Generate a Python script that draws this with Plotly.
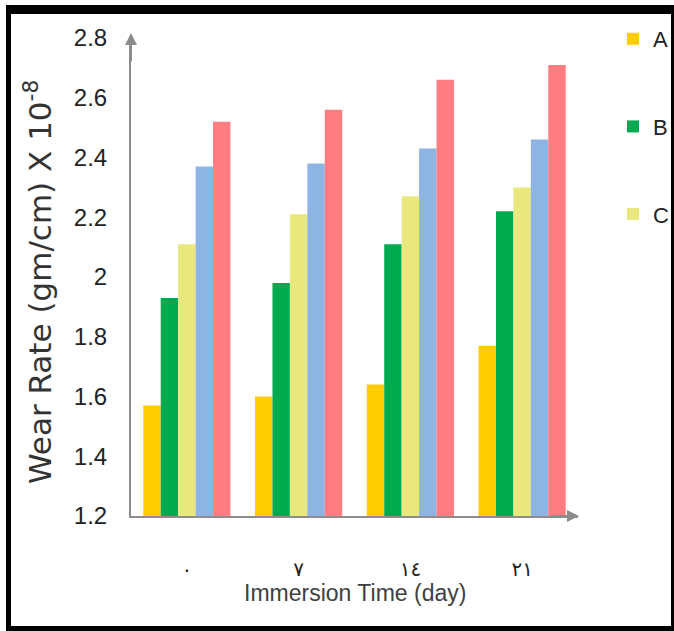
import plotly.graph_objects as go

categories = ["٠", "٧", "١٤", "٢١"]
series_names = ["A", "B", "C", "D", "E"]
values_A = [1.57, 1.60, 1.64, 1.77]
values_B = [1.93, 1.98, 2.11, 2.22]
values_C = [2.11, 2.21, 2.27, 2.30]
values_D = [2.37, 2.38, 2.43, 2.46]
values_E = [2.52, 2.56, 2.66, 2.71]
y_ticks = [1.2, 1.4, 1.6, 1.8, 2, 2.2, 2.4, 2.6, 2.8]
y_tick_labels = ["1.2", "1.4", "1.6", "1.8", "2", "2.2", "2.4", "2.6", "2.8"]

series_values = [values_A, values_B, values_C, values_D, values_E]
colors = ["#FFCC00", "#00AA4F", "#E8E87D", "#8EB4E3", "#FF7C80"]
show_in_legend = [True, True, True, False, False]

W, H = 674, 631
L, R, T, B = 131, 96, 38, 115
pw, ph = W - L - R, H - T - B


def px(x):
    return (x - L) / pw


def py(y):
    return (H - B - y) / ph


fig = go.Figure()
for name, vals, col, sl in zip(series_names, series_values, colors, show_in_legend):
    fig.add_trace(go.Bar(
        x=categories, y=vals, name=name, marker_color=col,
        marker_line_width=0, showlegend=sl, legendgroup=name,
    ))

axis_gray = "#8C8C8C"
shapes = []
# outer black frame
shapes.append(dict(type="line", xref="paper", yref="paper", x0=px(8.5), x1=px(8.5), y0=py(5), y1=py(631), line=dict(color="black", width=5)))
shapes.append(dict(type="line", xref="paper", yref="paper", x0=px(6), x1=px(674), y0=py(9.5), y1=py(9.5), line=dict(color="black", width=9)))
shapes.append(dict(type="line", xref="paper", yref="paper", x0=px(6), x1=px(674), y0=py(628.5), y1=py(628.5), line=dict(color="black", width=5)))
shapes.append(dict(type="line", xref="paper", yref="paper", x0=px(672.5), x1=px(672.5), y0=py(5), y1=py(631), line=dict(color="black", width=3)))

annotations = [
    dict(xref="paper", yref="paper", x=0, y=py(33), ax=0, ay=30, axref="pixel", ayref="pixel",
         text="", showarrow=True, arrowhead=2, arrowsize=1.2, arrowwidth=2, arrowcolor=axis_gray),
    dict(xref="paper", yref="paper", x=px(579), y=0, ax=-30, ay=0, axref="pixel", ayref="pixel",
         text="", showarrow=True, arrowhead=2, arrowsize=1.2, arrowwidth=2, arrowcolor=axis_gray),
    dict(xref="paper", yref="paper", x=0.5, y=py(593), text="Immersion Time (day)", showarrow=False,
         xanchor="center", yanchor="middle", font=dict(family="Liberation Sans", size=23, color="#404040")),
    dict(xref="paper", yref="paper", x=px(38), y=py(282), text="Wear Rate (gm/cm) X 10<sup>-8</sup>", showarrow=False,
         textangle=-90, xanchor="center", yanchor="middle", font=dict(family="DejaVu Sans", size=31, color="#333333")),
]

fig.update_layout(
    width=W, height=H,
    margin=dict(l=L, r=R, t=T, b=B, autoexpand=False),
    paper_bgcolor="white", plot_bgcolor="white",
    barmode="group", bargap=0.22, bargroupgap=0,
    shapes=shapes, annotations=annotations,
    showlegend=True,
    legend=dict(x=px(613), y=py(18), xanchor="left", yanchor="top", tracegroupgap=56,
                font=dict(family="Liberation Sans", size=22, color="#222222"),
                bgcolor="rgba(0,0,0,0)", itemwidth=30),
    xaxis=dict(type="category", range=[-0.5, 3.5], showline=True, linecolor=axis_gray, linewidth=2,
               showgrid=False, ticks="", ticklabelstandoff=34,
               tickfont=dict(family="DejaVu Sans", size=20, color="#222222")),
    yaxis=dict(range=[1.2, 2.8], tickvals=y_ticks, ticktext=y_tick_labels, showline=True,
               linecolor=axis_gray, linewidth=2, showgrid=False, zeroline=False, ticks="",
               ticklabelstandoff=17,
               tickfont=dict(family="Liberation Sans", size=24, color="#222222")),
)

fig.write_html("out.html", config={"displayModeBar": False},
               post_script="document.body.style.margin='0px';document.body.style.overflow='hidden';")
